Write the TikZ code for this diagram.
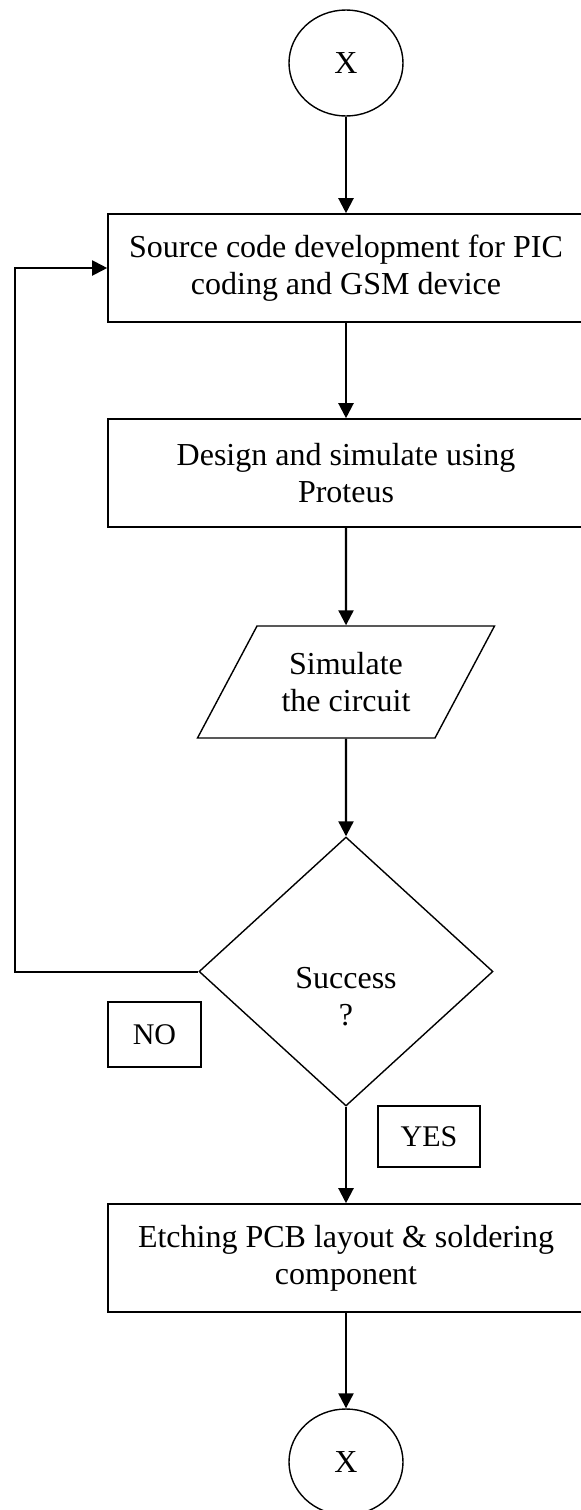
\documentclass[tikz,border=0pt]{standalone}
\usepackage{fontspec}
\setmainfont{Liberation Serif}
\usetikzlibrary{
  arrows.meta,
  positioning,
  shapes.geometric
}
\tikzset{>={Triangle[length=7.5pt,width=7.5pt]}}
\tikzset{
  flowtext/.style={font=\fontsize{16}{18.5}\selectfont,align=center},
  procbox/.style={flowtext,draw,line width=0.8pt,inner sep=0pt,
    minimum width=238pt,minimum height=54pt},
  connector/.style={flowtext,draw,ellipse,line width=0.7pt,inner sep=0pt,
    minimum width=57pt,minimum height=53pt},
  iobox/.style={flowtext,draw,trapezium,trapezium left angle=45,
    trapezium right angle=135,trapezium stretches body,line width=0.7pt,
    inner sep=0pt,minimum width=148.5pt,minimum height=56pt},
  decbox/.style={draw,diamond,line width=0.7pt,inner sep=0pt,
    minimum width=147pt,minimum height=134.5pt},
  tagbox/.style={draw,line width=0.7pt,inner sep=0pt,
    font=\fontsize{15}{17}\selectfont},
  flowarrow/.style={->,line width=1.1pt}
}
\begin{document}
\begin{tikzpicture}[x=0.5pt,y=-0.5pt]
  \useasboundingbox (0,0) rectangle (581,1510);
  % flow nodes
  \node[connector] (xtop) at (346,63) {X};
  \node[procbox] (src) at (346,268) {Source code development for PIC\\coding and GSM device};
  \node[procbox] (des) at (346,473) {Design and simulate using\\Proteus};
  \node[iobox] (sim) at (346,682) {Simulate\\the circuit};
  \node[decbox] (dec) at (346,971.5) {};
  \node[flowtext] (dectext) at (346,996.5) {Success\\?};
  \node[procbox] (etch) at (346,1258) {Etching PCB layout \& soldering\\component};
  \node[connector] (xbot) at (346,1462) {X};
  % answer tags
  \node[tagbox,minimum width=46.5pt,minimum height=32.5pt] (no) at (154.5,1034.5) {NO};
  \node[tagbox,minimum width=51pt,minimum height=30.5pt] (yes) at (429,1136.5) {YES};
  % connectors
  \draw[flowarrow] (xtop) -- (src);
  \draw[flowarrow] (src) -- (des);
  \draw[flowarrow] (des) -- (sim);
  \draw[flowarrow] (sim) -- (dec);
  \draw[flowarrow] (dec) -- (etch);
  \draw[flowarrow] (etch) -- (xbot);
  \coordinate (loop) at (15,971.5);
  \draw[flowarrow,line width=1pt] (dec.west) -- (loop) |- (src.west);
\end{tikzpicture}
\end{document}
